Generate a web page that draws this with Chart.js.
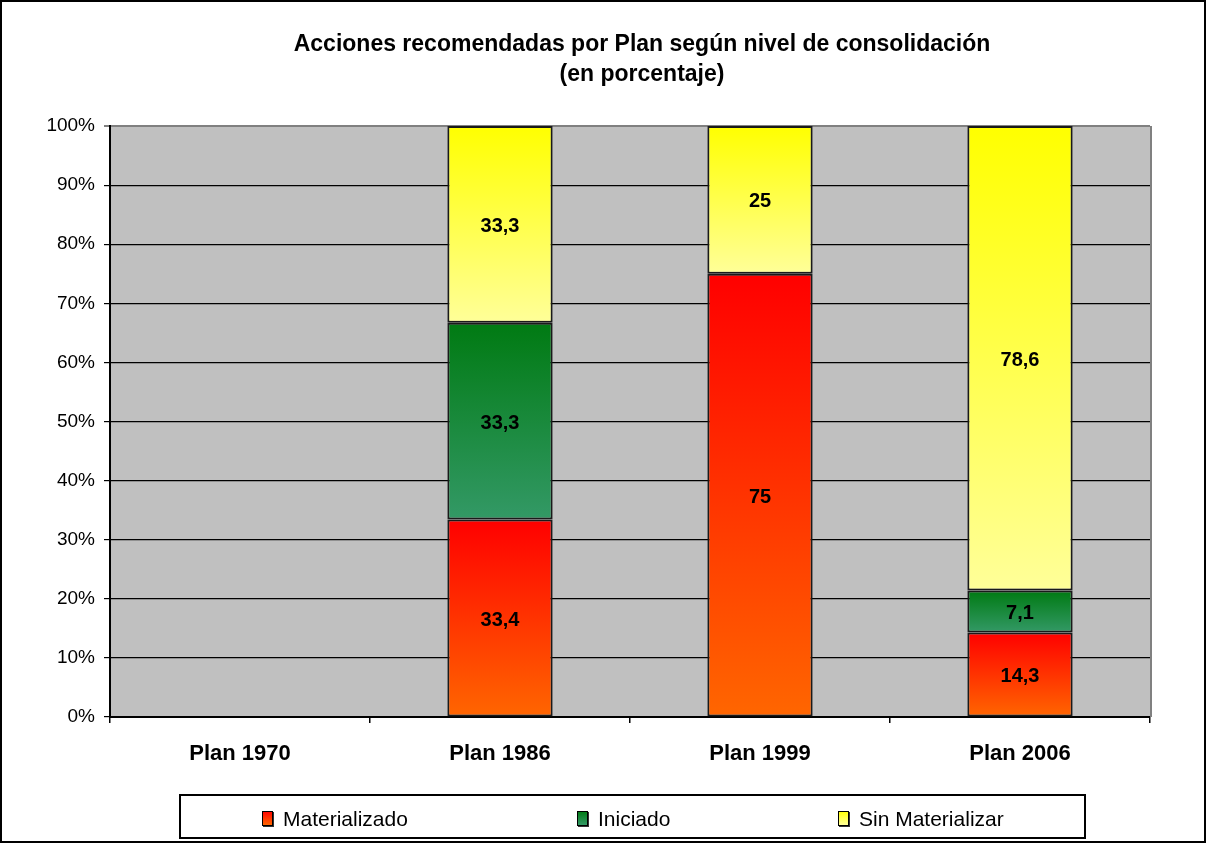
<!DOCTYPE html>
<html>
<head>
<meta charset="utf-8">
<script src="https://cdn.jsdelivr.net/npm/chart.js@4"></script>
<style>
    html, body { margin: 0; padding: 0; background: #fff; }
    #wrap { width: 1206px; height: 843px; position: relative; }
</style>
</head>
<body>
<div id="wrap"><canvas id="chart"></canvas></div>
<script>
// Chart data
const categories = ['Plan 1970', 'Plan 1986', 'Plan 1999', 'Plan 2006'];
const materializado = [null, 33.4, 75, 14.3];
const iniciado = [null, 33.3, null, 7.1];
const sinMaterializar = [null, 33.3, 25, 78.6];
const seriesNames = ['Materializado', 'Iniciado', 'Sin Materializar'];
const yTicks = [0, 10, 20, 30, 40, 50, 60, 70, 80, 90, 100];

const FONT = "'Liberation Sans', Arial, sans-serif";

// top colour -> bottom colour of each segment gradient
const gradStops = [
    ['#FF0000', '#FF6600'],
    ['#007A12', '#339966'],
    ['#FFFF00', '#FFFF99']
];
const allSeries = [materializado, iniciado, sinMaterializar];

function segmentGradient(ctx) {
    const chart = ctx.chart;
    const stops = gradStops[ctx.datasetIndex];
    const yScale = chart.scales.y;
    if (!chart.chartArea || !yScale || ctx.dataIndex === undefined) return stops[0];
    let base = 0;
    for (let d = 0; d < ctx.datasetIndex; d++) {
        base += allSeries[d][ctx.dataIndex] || 0;
    }
    const val = allSeries[ctx.datasetIndex][ctx.dataIndex] || 0;
    const yTop = yScale.getPixelForValue(base + val);
    const yBot = yScale.getPixelForValue(base);
    if (!isFinite(yTop) || !isFinite(yBot) || yTop === yBot) return stops[0];
    const g = chart.ctx.createLinearGradient(0, yTop, 0, yBot);
    g.addColorStop(0, stops[0]);
    g.addColorStop(1, stops[1]);
    return g;
}

// Background, frame, title, labels and legend drawn around the plot
const excelFrame = {
    id: 'excelFrame',
    beforeDraw(chart) {
        const c = chart.ctx;
        const a = chart.chartArea;
        c.save();
        c.fillStyle = '#fff';
        c.fillRect(0, 0, chart.width, chart.height);
        c.fillStyle = '#C0C0C0';
        c.fillRect(a.left, a.top, a.right - a.left, a.bottom - a.top);
        c.restore();
    },
    afterDatasetsDraw(chart) {
        const c = chart.ctx;
        c.save();
        c.fillStyle = '#000';
        c.font = 'bold 20px ' + FONT;
        c.textAlign = 'center';
        c.textBaseline = 'middle';
        chart.data.datasets.forEach((ds, di) => {
            const meta = chart.getDatasetMeta(di);
            meta.data.forEach((bar, i) => {
                const v = ds.data[i];
                if (v === null || v === undefined || v === 0) return;
                const midY = (bar.y + bar.base) / 2;
                c.fillText(String(v).replace('.', ','), bar.x, midY + 2);
            });
        });
        c.restore();
    },
    afterDraw(chart) {
        const c = chart.ctx;
        const a = chart.chartArea;
        c.save();

        // gray right edge of plot area
        c.strokeStyle = '#808080';
        c.lineWidth = 2;
        c.beginPath();
        c.moveTo(a.right + 1, a.top);
        c.lineTo(a.right + 1, a.bottom);
        c.stroke();

        // title
        c.fillStyle = '#000';
        c.font = 'bold 23px ' + FONT;
        c.textAlign = 'center';
        c.textBaseline = 'middle';
        c.fillText('Acciones recomendadas por Plan según nivel de consolidación', 642, 45);
        c.fillText('(en porcentaje)', 642, 75);

        // legend box
        c.strokeStyle = '#000';
        c.lineWidth = 2;
        c.strokeRect(180, 795, 905, 43);
        const items = [262, 577, 838];
        c.font = '21px ' + FONT;
        c.textAlign = 'left';
        items.forEach((x, k) => {
            const g = c.createLinearGradient(0, 811, 0, 825);
            g.addColorStop(0, gradStops[k][0]);
            g.addColorStop(1, gradStops[k][1]);
            c.fillStyle = '#333';
            c.fillRect(x + 1, 812, 11, 15);
            c.fillStyle = g;
            c.fillRect(x, 811, 10, 14);
            c.strokeStyle = '#000';
            c.lineWidth = 1;
            c.strokeRect(x + 0.5, 811.5, 10, 14);
            c.fillStyle = '#000';
            c.fillText(seriesNames[k], x + 21, 820);
        });

        // outer border
        c.strokeStyle = '#000';
        c.lineWidth = 2;
        c.strokeRect(1, 1, chart.width - 2, chart.height - 2);
        c.restore();
    }
};

const ctx = document.getElementById('chart');

const datasets = allSeries.map((data, k) => ({
    label: seriesNames[k],
    data: data,
    backgroundColor: segmentGradient,
    borderColor: '#1a1a1a',
    borderWidth: 2,
    borderSkipped: false,
    categoryPercentage: 1,
    barPercentage: 0.405
}));

new Chart(ctx, {
    type: 'bar',
    data: { labels: categories, datasets: datasets },
    options: {
        responsive: true,
        maintainAspectRatio: false,
        animation: false,
        devicePixelRatio: 1,
        layout: { padding: { left: 0, right: 56, top: 126, bottom: 66 } },
        plugins: {
            legend: { display: false },
            title: { display: false },
            tooltip: { enabled: false }
        },
        scales: {
            x: {
                stacked: true,
                grid: {
                    offset: true,
                    drawOnChartArea: false,
                    drawTicks: true,
                    tickLength: 6,
                    color: '#000',
                    lineWidth: 1.5
                },
                border: { color: '#000', width: 2 },
                ticks: {
                    color: '#000',
                    padding: 18,
                    font: { family: FONT, size: 22, weight: 'bold' }
                },
                afterFit(scale) { scale.height = 60; }
            },
            y: {
                stacked: true,
                min: 0,
                max: 100,
                afterBuildTicks(scale) {
                    scale.ticks = yTicks.map(v => ({ value: v }));
                },
                grid: {
                    color: (c) => (c.tick && c.tick.value === 100 ? '#808080' : '#000'),
                    lineWidth: (c) => (c.tick && c.tick.value === 100 ? 2 : 1.2),
                    tickLength: 6,
                    drawTicks: true
                },
                border: { color: '#000', width: 2 },
                ticks: {
                    color: '#000',
                    padding: 9,
                    font: { family: FONT, size: 19 },
                    callback: (v) => v + '%'
                },
                afterFit(scale) { scale.width = 110; }
            }
        }
    },
    plugins: [excelFrame]
});
</script>
</body>
</html>
